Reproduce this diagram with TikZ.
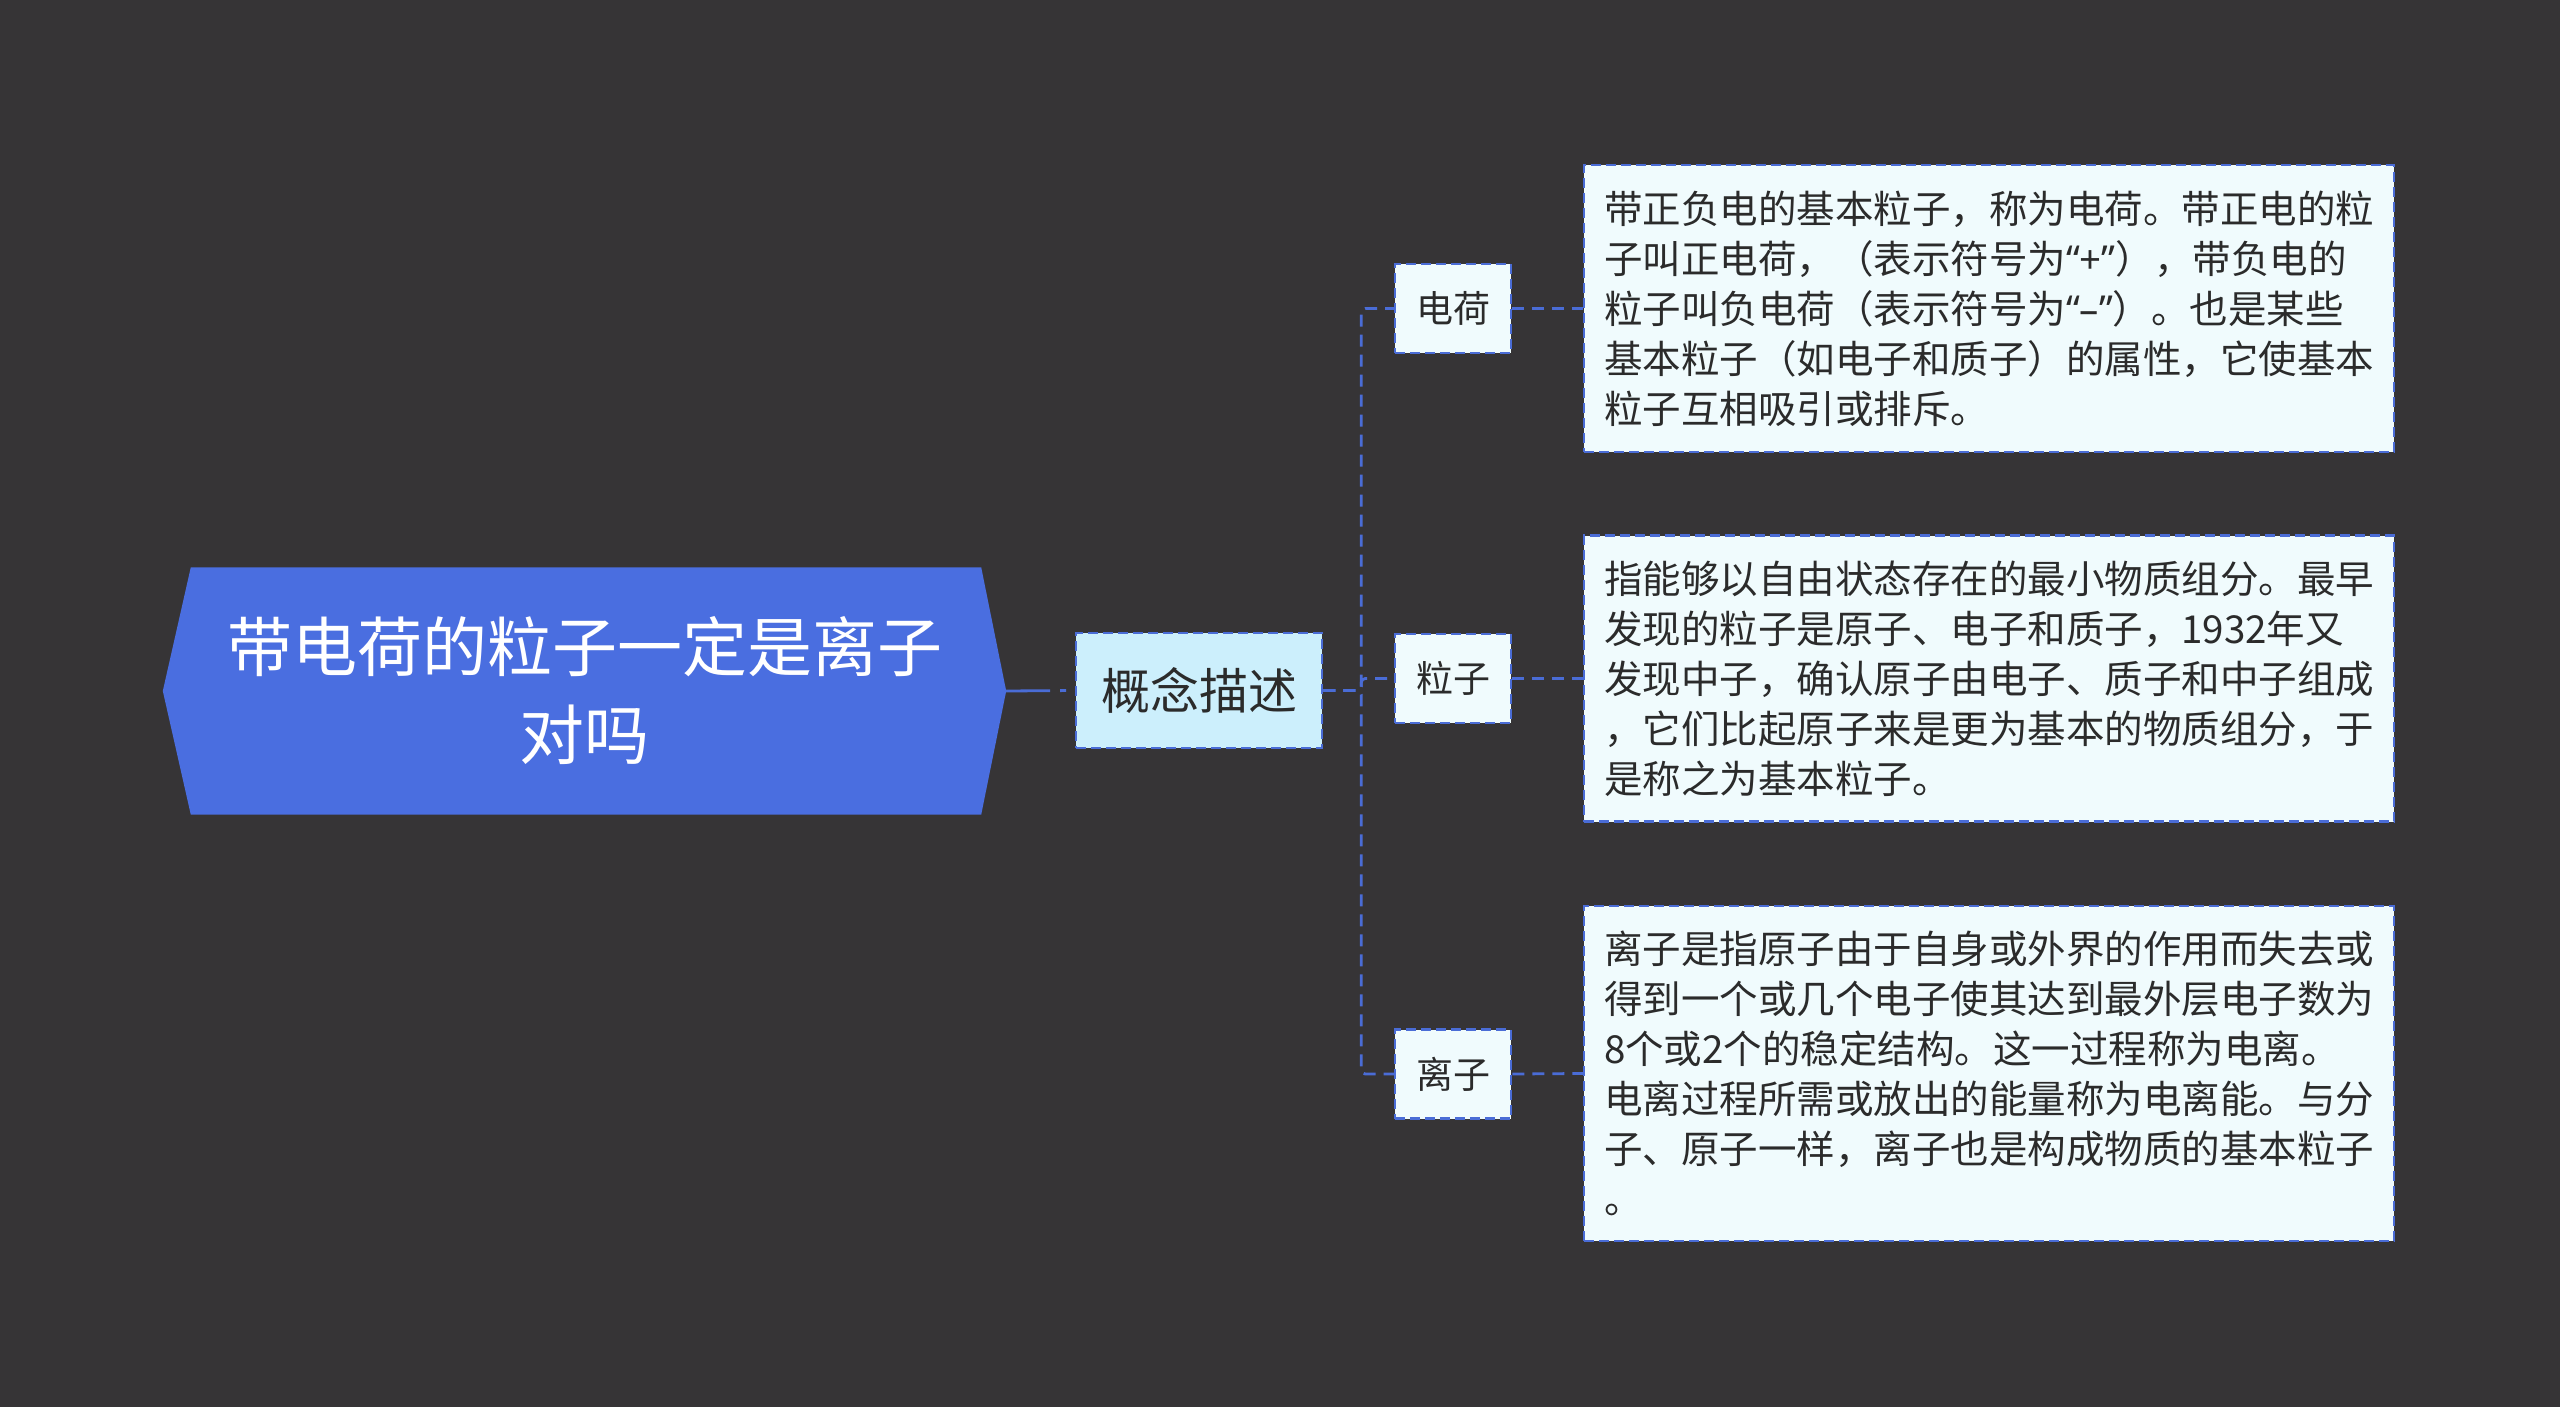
\documentclass[tikz,border=0pt]{standalone}
\usepackage{fontspec}
\newfontfamily\cjk{Noto Sans CJK SC}
\newfontfamily\latn{Noto Sans}
\definecolor{bg}{HTML}{363436}
\definecolor{rootblue}{HTML}{4A6EE0}
\definecolor{edgeblue}{HTML}{4A6CD6}
\definecolor{lightcyan}{HTML}{CCEFFC}
\definecolor{paleblue}{HTML}{F0FBFD}
\definecolor{ink}{HTML}{2B2B2B}
\tikzset{
  rootnode/.style={text=white, align=center, inner sep=0pt,
    minimum width=843pt, minimum height=247pt,
    font={\cjk\fontsize{65pt}{88pt}\selectfont}},
  midnode/.style={draw=edgeblue, line width=2.5pt, dash pattern=on 10pt off 5pt,
    fill=lightcyan, text=ink, inner sep=0pt, minimum width=246pt, minimum height=115pt,
    font={\cjk\fontsize{49pt}{60pt}\selectfont}},
  leafnode/.style={draw=edgeblue, line width=2.5pt, dash pattern=on 10pt off 5pt,
    fill=paleblue, text=ink, inner sep=0pt, minimum width=116pt, minimum height=89pt,
    font={\cjk\fontsize{37pt}{46pt}\selectfont}},
  detailnode/.style={draw=edgeblue, line width=2.5pt, dash pattern=on 10pt off 5pt,
    fill=paleblue, text=ink, inner sep=0pt, align=left, minimum width=810pt,
    font={\cjk\fontsize{38.5pt}{50pt}\selectfont}},
  conn/.style={draw=edgeblue, line width=2.8pt, dash pattern=on 12pt off 8pt, rounded corners=4pt},
}
\begin{document}
\begin{tikzpicture}[x=1pt,y=-1pt]
\fill[bg] (0,0) rectangle (2560,1407);
\useasboundingbox (0,0) rectangle (2560,1407);

% root
\node[rootnode] (root) at (584.5,691) {};
\fill[rootblue] (root.west) -- ([xshift=28pt]root.north west) -- ([xshift=-25pt]root.north east)
  -- (root.east) -- ([xshift=-25pt]root.south east) -- ([xshift=28pt]root.south west) -- cycle;
\node[rootnode] at (root.center) {带电荷的粒子一定是离子\\对吗};

% middle
\node[midnode] (kn) at (1199,690.5) {概念描述};

% leaves
\node[leafnode] (dh) at (1453,308.5) {电荷};
\node[leafnode] (lz) at (1453,678.5) {粒子};
\node[leafnode] (iz) at (1453,1074) {离子};

% details
\node[detailnode, minimum height=287pt] (d1) at (1989,308.5) {带正负电的基本粒子，称为电荷。带正电的粒\\子叫正电荷，（表示符号为{\latn “+”}），带负电的\\粒子叫负电荷（表示符号为{\latn “–”}）。也是某些\\基本粒子（如电子和质子）的属性，它使基本\\粒子互相吸引或排斥。};
\node[detailnode, minimum height=286pt] (d2) at (1989,678.5) {指能够以自由状态存在的最小物质组分。最早\\发现的粒子是原子、电子和质子，1932年又\\发现中子，确认原子由电子、质子和中子组成\\，它们比起原子来是更为基本的物质组分，于\\是称之为基本粒子。};
\node[detailnode, minimum height=335pt] (d3) at (1989,1073.5) {离子是指原子由于自身或外界的作用而失去或\\得到一个或几个电子使其达到最外层电子数为\\8个或2个的稳定结构。这一过程称为电离。\\电离过程所需或放出的能量称为电离能。与分\\子、原子一样，离子也是构成物质的基本粒子\\。};

% connectors
\draw[edgeblue, line width=2.8pt, dash pattern=on 44pt off 10pt on 6pt off 10pt] (root.east) -- (kn.west);
\draw[conn] (kn.east) -- ++(38pt,0) |- (dh.west);
\draw[conn] (kn.east) -- ++(38pt,0) |- (lz.west);
\draw[conn] (kn.east) -- ++(38pt,0) |- (iz.west);
\draw[conn] (dh.east) -- (d1.west);
\draw[conn] (lz.east) -- (d2.west);
\draw[conn] (iz.east) -- (d3.west);
\end{tikzpicture}
\end{document}
